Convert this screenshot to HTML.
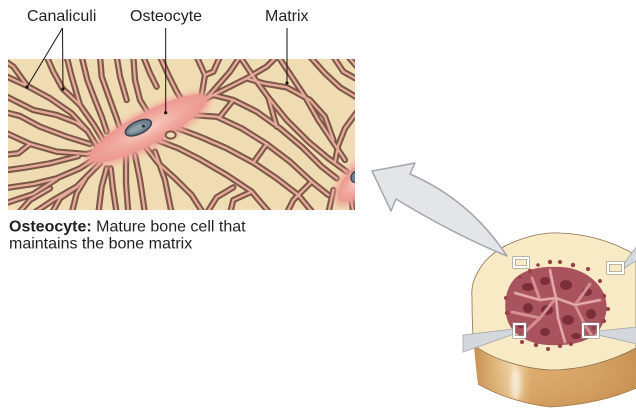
<!DOCTYPE html>
<html><head><meta charset="utf-8">
<style>
html,body{margin:0;padding:0;background:#fff;}
body{width:636px;height:410px;overflow:hidden;position:relative;font-family:"Liberation Sans",Arial,sans-serif;}
svg{position:absolute;left:0;top:0;}
</style></head><body>
<svg width="636" height="410" viewBox="0 0 636 410" xmlns="http://www.w3.org/2000/svg">
<defs>
<clipPath id="mc"><rect x="8" y="59" width="347" height="151"/></clipPath>
<radialGradient id="bodyg" cx="0.5" cy="0.5" r="0.5">
 <stop offset="0" stop-color="#f7cfc2"/>
 <stop offset="0.55" stop-color="#f1aaa0"/>
 <stop offset="1" stop-color="#ec9890"/>
</radialGradient>
<linearGradient id="tan" x1="0" y1="0" x2="1" y2="0">
 <stop offset="0" stop-color="#c48a4c"/>
 <stop offset="0.12" stop-color="#dcae70"/>
 <stop offset="0.26" stop-color="#f2d8ac"/>
 <stop offset="0.36" stop-color="#dcaa6a"/>
 <stop offset="0.7" stop-color="#d6a264"/>
 <stop offset="1" stop-color="#c89050"/>
</linearGradient>
<linearGradient id="tanv" x1="0" y1="0" x2="0" y2="1">
 <stop offset="0" stop-color="#f6e2b8" stop-opacity="0.8"/>
 <stop offset="0.45" stop-color="#f6e2b8" stop-opacity="0"/>
 <stop offset="1" stop-color="#b07838" stop-opacity="0.25"/>
</linearGradient>
<filter id="bl" x="-50%" y="-50%" width="200%" height="200%"><feGaussianBlur stdDeviation="2.5"/></filter>
<filter id="bl2" x="-50%" y="-50%" width="200%" height="200%"><feGaussianBlur stdDeviation="8"/></filter>
</defs>

<!-- micrograph -->
<rect x="8" y="59" width="347" height="151" fill="#f0dcb3"/>
<g clip-path="url(#mc)">
<g transform="scale(0.333333)" fill="none" stroke-linejoin="round" stroke-linecap="round">
 <g stroke="#7a5747" stroke-width="19">
  <path d="M10,225 L82,258 L150,295 L215,340 L262,392 L292,440"/>
  <path d="M140,170 L160,215 L188,266 L240,315 L282,375 L312,425"/>
  <path d="M10,285 L100,330 L170,345 L230,368 L262,392"/>
  <path d="M245,170 L262,240 L285,300 L305,350 L320,395"/>
  <path d="M300,170 L305,230 L330,300 L350,355 L360,385"/>
  <path d="M10,395 L90,432 L170,455 L260,462 L300,452"/>
  <path d="M10,465 L55,460 L90,432"/>
  <path d="M10,565 L100,552 L170,535 L240,505 L290,472"/>
  <path d="M10,612 L100,582 L170,537"/>
  <path d="M100,640 L160,600 L230,560 L270,520"/>
  <path d="M215,640 L230,580 L260,530 L300,490"/>
  <path d="M295,640 L305,560 L320,505"/>
  <path d="M350,640 L338,560 L332,505"/>
  <path d="M350,170 L360,230 L380,300"/>
  <path d="M400,170 L405,240 L420,300 L445,340"/>
  <path d="M430,170 L450,220 L470,260"/>
  <path d="M480,170 L505,225 L530,275 L548,305"/>
  <path d="M590,170 L615,225 L605,285"/>
  <path d="M660,170 L640,215 L615,225"/>
  <path d="M720,170 L690,215 L655,255 L620,295"/>
  <path d="M610,300 L680,265 L740,235 L800,200 L830,170"/>
  <path d="M640,285 L700,300 L770,335 L840,385 L905,440 L965,500 L1010,535"/>
  <path d="M570,345 L650,350 L725,385 L800,432 L870,485 L935,545 L985,585"/>
  <path d="M520,380 L600,410 L680,445 L760,488 L830,535 L895,585 L940,640"/>
  <path d="M470,420 L535,445 L600,478 L680,525 L755,575 L810,640"/>
  <path d="M440,445 L475,490 L525,535 L575,585 L610,640"/>
  <path d="M405,465 L420,540 L435,640"/>
  <path d="M378,470 L378,550 L385,640"/>
  <path d="M465,455 L495,540 L515,640"/>
  <path d="M720,170 L760,230 L805,292 L860,360 L925,425 L985,475 L1040,515"/>
  <path d="M835,170 L870,222 L915,290 L955,360 L995,420 L1035,480"/>
  <path d="M930,170 L975,220 L1020,262 L1075,295"/>
  <path d="M1000,170 L1030,215 L1075,240"/>
  <path d="M1045,170 L1075,205"/>
  <path d="M1075,330 L1035,385 L1015,435 L1005,485"/>
  <path d="M805,292 L830,380"/>
  <path d="M660,350 L700,300"/>
  <path d="M760,488 L800,432"/>
  <path d="M895,585 L935,545"/>
  <path d="M1000,570 L985,640"/>
  <path d="M1050,570 L1060,640"/>
  <path d="M740,235 L790,250 L860,262 L930,300 L975,350 L1000,420"/>
  <path d="M690,640 L700,600 L755,575"/>
  <path d="M860,640 L880,600 L895,585"/>
  <path d="M10,180 L40,200 L82,258"/>
  <path d="M200,170 L215,230 L240,315"/>
  <path d="M10,335 L60,348 L120,380 L200,410 L270,432"/>
  <path d="M10,512 L80,502 L150,490 L235,468"/>
  <path d="M55,640 L90,600 L150,565"/>
  <path d="M155,640 L180,595 L232,560"/>
  <path d="M620,640 L650,592 L700,562"/>
 </g>
 <g stroke="#e6aa9a" stroke-width="7">
  <path d="M10,225 L82,258 L150,295 L215,340 L262,392 L292,440"/>
  <path d="M140,170 L160,215 L188,266 L240,315 L282,375 L312,425"/>
  <path d="M10,285 L100,330 L170,345 L230,368 L262,392"/>
  <path d="M245,170 L262,240 L285,300 L305,350 L320,395"/>
  <path d="M300,170 L305,230 L330,300 L350,355 L360,385"/>
  <path d="M10,395 L90,432 L170,455 L260,462 L300,452"/>
  <path d="M10,465 L55,460 L90,432"/>
  <path d="M10,565 L100,552 L170,535 L240,505 L290,472"/>
  <path d="M10,612 L100,582 L170,537"/>
  <path d="M100,640 L160,600 L230,560 L270,520"/>
  <path d="M215,640 L230,580 L260,530 L300,490"/>
  <path d="M295,640 L305,560 L320,505"/>
  <path d="M350,640 L338,560 L332,505"/>
  <path d="M350,170 L360,230 L380,300"/>
  <path d="M400,170 L405,240 L420,300 L445,340"/>
  <path d="M430,170 L450,220 L470,260"/>
  <path d="M480,170 L505,225 L530,275 L548,305"/>
  <path d="M590,170 L615,225 L605,285"/>
  <path d="M660,170 L640,215 L615,225"/>
  <path d="M720,170 L690,215 L655,255 L620,295"/>
  <path d="M610,300 L680,265 L740,235 L800,200 L830,170"/>
  <path d="M640,285 L700,300 L770,335 L840,385 L905,440 L965,500 L1010,535"/>
  <path d="M570,345 L650,350 L725,385 L800,432 L870,485 L935,545 L985,585"/>
  <path d="M520,380 L600,410 L680,445 L760,488 L830,535 L895,585 L940,640"/>
  <path d="M470,420 L535,445 L600,478 L680,525 L755,575 L810,640"/>
  <path d="M440,445 L475,490 L525,535 L575,585 L610,640"/>
  <path d="M405,465 L420,540 L435,640"/>
  <path d="M378,470 L378,550 L385,640"/>
  <path d="M465,455 L495,540 L515,640"/>
  <path d="M720,170 L760,230 L805,292 L860,360 L925,425 L985,475 L1040,515"/>
  <path d="M835,170 L870,222 L915,290 L955,360 L995,420 L1035,480"/>
  <path d="M930,170 L975,220 L1020,262 L1075,295"/>
  <path d="M1000,170 L1030,215 L1075,240"/>
  <path d="M1045,170 L1075,205"/>
  <path d="M1075,330 L1035,385 L1015,435 L1005,485"/>
  <path d="M805,292 L830,380"/>
  <path d="M660,350 L700,300"/>
  <path d="M760,488 L800,432"/>
  <path d="M895,585 L935,545"/>
  <path d="M1000,570 L985,640"/>
  <path d="M1050,570 L1060,640"/>
  <path d="M740,235 L790,250 L860,262 L930,300 L975,350 L1000,420"/>
  <path d="M690,640 L700,600 L755,575"/>
  <path d="M860,640 L880,600 L895,585"/>
  <path d="M10,180 L40,200 L82,258"/>
  <path d="M200,170 L215,230 L240,315"/>
  <path d="M10,335 L60,348 L120,380 L200,410 L270,432"/>
  <path d="M10,512 L80,502 L150,490 L235,468"/>
  <path d="M55,640 L90,600 L150,565"/>
  <path d="M155,640 L180,595 L232,560"/>
  <path d="M620,640 L650,592 L700,562"/>
 </g>
 <!-- pink halos -->
 <ellipse cx="445" cy="388" rx="212" ry="58" transform="rotate(-28 445 388)" fill="#ef9f96" opacity="0.75" filter="url(#bl2)"/>
 <ellipse cx="1068" cy="545" rx="90" ry="46" transform="rotate(-50 1068 545)" fill="#ef9f96" opacity="0.75" filter="url(#bl2)"/>
 <!-- bodies -->
 <ellipse cx="445" cy="385" rx="198" ry="48" transform="rotate(-28 445 385)" fill="url(#bodyg)"/>
 <ellipse cx="1068" cy="545" rx="75" ry="34" transform="rotate(-50 1068 545)" fill="url(#bodyg)"/>
 <ellipse cx="512" cy="405" rx="15" ry="11" fill="#f0dcb3" stroke="#7a5747" stroke-width="6"/>
 <ellipse cx="415" cy="383" rx="42" ry="19" transform="rotate(-25 415 383)" fill="#71828f" stroke="#3c4856" stroke-width="5"/>
 <ellipse cx="412" cy="385" rx="28" ry="9" transform="rotate(-25 412 385)" fill="#8e9ea9"/>
 <circle cx="430" cy="378" r="5" fill="#2e3a48"/>
 <ellipse cx="1068" cy="530" rx="18" ry="14" transform="rotate(-60 1068 530)" fill="#71828f" stroke="#3c4856" stroke-width="4"/>
</g>
</g>

<!-- labels -->
<g font-family="Liberation Sans, Arial, sans-serif" font-size="16" fill="#231f20">
 <text x="27" y="21">Canaliculi</text>
 <text x="130" y="21">Osteocyte</text>
 <text x="265" y="21">Matrix</text>
 <text x="9" y="231.5"><tspan font-weight="bold">Osteocyte:</tspan> Mature bone cell that</text>
 <text x="9" y="248.5">maintains the bone matrix</text>
</g>
<g stroke="#111" stroke-width="1" fill="none">
 <path d="M62.5,28 L27,87 M62.5,28 L63,89"/>
 <path d="M165.7,28 L165.7,112.7"/>
 <path d="M287,28 L287,83"/>
</g>
<g fill="#111">
 <circle cx="27" cy="87" r="1.6"/>
 <circle cx="63" cy="89" r="1.6"/>
 <circle cx="165.7" cy="112.7" r="1.6"/>
 <circle cx="287" cy="83" r="1.6"/>
</g>

<!-- bone cross-section -->
<path d="M472,300 L474,345 Q476,370 478,384 Q510,402 550,407 Q600,404 636,388 L636,340 Z" fill="url(#tan)"/>
<path d="M472,300 L474,345 Q476,370 478,384 Q510,402 550,407 Q600,404 636,388 L636,340 Z" fill="url(#tanv)"/>
<ellipse cx="516" cy="384" rx="5" ry="16" fill="#fff" opacity="0.55" filter="url(#bl)"/>
<path d="M478,384 Q510,402 550,407 Q600,404 636,388" fill="none" stroke="#a87840" stroke-width="0.8"/>
<path d="M472,297 C470,280 482,258 505,246 C525,236 545,232 560,233 C590,234 615,243 636,255 L636,348 C610,362 580,370 550,370 C520,368 490,358 474,345 C472,330 472,310 472,297 Z" fill="#f8eac4" stroke="#8a7050" stroke-width="0.8"/>

<!-- marrow -->
<path d="M512,282 C520,270 540,266 556,267 C575,266 595,276 603,292 C610,305 606,322 597,333 C585,344 565,346 548,345 C530,344 514,336 508,322 C503,308 505,292 512,282 Z" fill="#a9535e"/>
<g fill="#7c2f3b">
 <ellipse cx="528" cy="287" rx="6" ry="4"/>
 <ellipse cx="545" cy="281" rx="5" ry="4"/>
 <ellipse cx="566" cy="285" rx="6" ry="5"/>
 <ellipse cx="587" cy="292" rx="5" ry="4"/>
 <ellipse cx="528" cy="308" rx="5" ry="5"/>
 <ellipse cx="547" cy="310" rx="6" ry="5"/>
 <ellipse cx="568" cy="320" rx="6" ry="5"/>
 <ellipse cx="591" cy="314" rx="5" ry="5"/>
 <ellipse cx="521" cy="325" rx="4" ry="3"/>
 <ellipse cx="545" cy="332" rx="5" ry="4"/>
 <ellipse cx="576" cy="336" rx="5" ry="3"/>
</g>
<g fill="none" stroke="#d58f92" stroke-width="3" stroke-linejoin="round" stroke-linecap="round">
 <path d="M515,293 L540,300 L556,298 L575,305 L600,300"/>
 <path d="M550,270 L553,285 L556,298 L558,318 L565,342"/>
 <path d="M556,298 L540,318 L525,332"/>
 <path d="M575,305 L585,325 L592,336"/>
 <path d="M540,300 L532,278"/>
 <path d="M575,305 L590,284"/>
 <path d="M512,312 L540,318"/>
</g>
<g fill="none" stroke="#ecbcbc" stroke-width="1">
 <path d="M515,293 L540,300 L556,298 L575,305 L600,300"/>
 <path d="M550,270 L553,285 L556,298 L558,318 L565,342"/>
</g>
<g fill="#96404a">
 <circle cx="550" cy="262" r="2.2"/><circle cx="560" cy="262" r="2"/><circle cx="573" cy="265" r="2.2"/>
 <circle cx="588" cy="269" r="2"/><circle cx="530" cy="271" r="2.2"/><circle cx="538" cy="265" r="1.8"/>
 <circle cx="600" cy="281" r="2"/><circle cx="604" cy="296" r="2.2"/><circle cx="608" cy="309" r="2"/>
 <circle cx="604" cy="321" r="2"/><circle cx="506" cy="298" r="2"/><circle cx="507" cy="313" r="2.2"/>
 <circle cx="520" cy="277" r="1.8"/><circle cx="522" cy="342" r="2"/><circle cx="536" cy="345" r="2.2"/>
 <circle cx="548" cy="349" r="2"/><circle cx="560" cy="346" r="2"/><circle cx="571" cy="344" r="2"/>
 <circle cx="594" cy="328" r="2"/><circle cx="512" cy="333" r="1.8"/>
</g>

<!-- pointer wedges -->
<g fill="#d4d7db" stroke="#a4a7ab" stroke-width="0.8">
 <polygon points="514,329 463,335 463,352 514,334"/>
 <polygon points="598,331 637,327 637,344 598,335"/>
 <polygon points="622,266 637,246 637,260 623,269"/>
</g>
<!-- big arrow -->
<path d="M372,171 L415,163 L410,174 Q470,200 507,256 Q455,235 396,199 L391,211 Z" fill="#e4e5e8" stroke="#a4a6aa" stroke-width="1.5" stroke-linejoin="round"/>

<!-- boxes -->
<g fill="none">
 <g stroke="#8f8f8f" stroke-width="3.2">
  <rect x="514" y="258" width="14" height="9"/>
  <rect x="608" y="263" width="15" height="10"/>
  <rect x="514" y="324" width="11" height="13"/>
  <rect x="583" y="324" width="15" height="13"/>
 </g>
 <g stroke="#fff" stroke-width="2">
  <rect x="514" y="258" width="14" height="9"/>
  <rect x="608" y="263" width="15" height="10"/>
  <rect x="514" y="324" width="11" height="13"/>
  <rect x="583" y="324" width="15" height="13"/>
 </g>
</g>
</svg>
</body></html>
